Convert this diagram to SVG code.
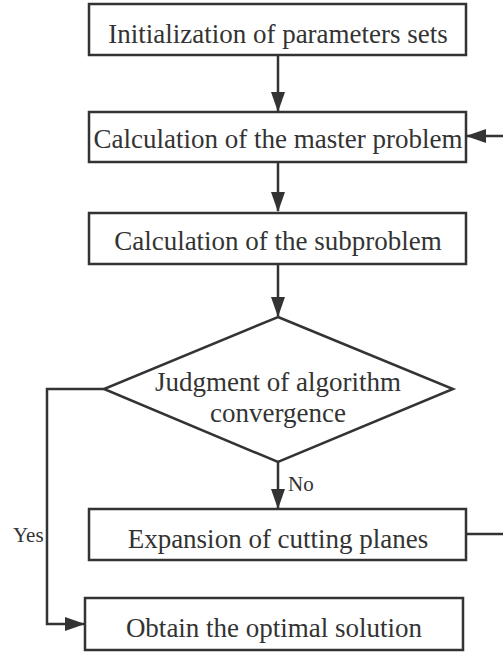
<svg xmlns="http://www.w3.org/2000/svg" width="503" height="654" viewBox="0 0 503 654">
<style>
.box{fill:#fff;stroke:#333;stroke-width:2.5}
.lbl{fill:#333;text-anchor:middle}
.small{fill:#333}
.conn{fill:none;stroke:#333;stroke-width:2.5}
</style>
<defs>
<marker id="ah" markerUnits="userSpaceOnUse" markerWidth="20" markerHeight="14" refX="19" refY="7" orient="auto">
<path d="M0,0 L20,7 L0,14 z" fill="#333"/>
</marker>
</defs>
<rect width="503" height="654" fill="#fff"/>
<g id="connectors">
<path class="conn" d="M278,55 V111" marker-end="url(#ah)"/>
<path class="conn" d="M278,162 V211" marker-end="url(#ah)"/>
<path class="conn" d="M278,264 V316" marker-end="url(#ah)"/>
<path class="conn" d="M278,462 V508" marker-end="url(#ah)"/>
<path class="conn" d="M104,389 H47 V624 H84" marker-end="url(#ah)"/>
<path class="conn" d="M466,534 H508 V136 H467" marker-end="url(#ah)"/>
<text class="small" x="288" y="491" font-size="21" font-family="Liberation Serif, serif">No</text>
<text class="small" x="13" y="542" font-size="21" font-family="Liberation Serif, serif">Yes</text>
</g>
<g id="n1">
<rect class="box" x="89" y="4" width="377" height="51"/>
<text class="lbl" x="278" y="43" font-size="27" font-family="Liberation Serif, serif">Initialization of parameters sets</text>
</g>
<g id="n2">
<rect class="box" x="89" y="112" width="377" height="50"/>
<text class="lbl" x="278" y="148" font-size="27" font-family="Liberation Serif, serif">Calculation of the master problem</text>
</g>
<g id="n3">
<rect class="box" x="89" y="213" width="377" height="51"/>
<text class="lbl" x="278" y="250" font-size="27" font-family="Liberation Serif, serif">Calculation of the subproblem</text>
</g>
<g id="n4">
<polygon class="box" points="278,317 453,389 278,462 104,389"/>
<text class="lbl" x="278" y="391" font-size="27" font-family="Liberation Serif, serif">Judgment of algorithm</text>
<text class="lbl" x="278" y="422" font-size="27" font-family="Liberation Serif, serif">convergence</text>
</g>
<g id="n5">
<rect class="box" x="89" y="509" width="377" height="51"/>
<text class="lbl" x="278" y="548" font-size="27" font-family="Liberation Serif, serif">Expansion of cutting planes</text>
</g>
<g id="n6">
<rect class="box" x="85" y="598" width="378" height="52"/>
<text class="lbl" x="274" y="637" font-size="27" font-family="Liberation Serif, serif">Obtain the optimal solution</text>
</g>
</svg>
